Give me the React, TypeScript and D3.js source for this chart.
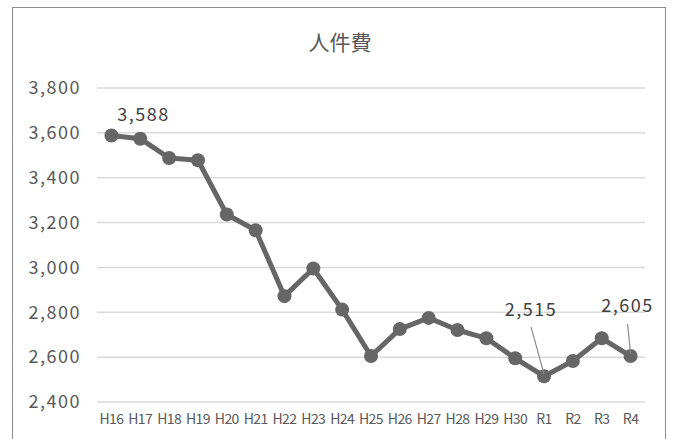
import React, { useEffect, useRef } from "react";
import * as d3 from "d3";

const years = ["H16", "H17", "H18", "H19", "H20", "H21", "H22", "H23", "H24", "H25", "H26", "H27", "H28", "H29", "H30", "R1", "R2", "R3", "R4"];
const costs = [3588, 3574, 3488, 3478, 3236, 3166, 2872, 2995, 2812, 2605, 2725, 2775, 2721, 2684, 2595, 2515, 2583, 2684, 2605];
const yTicks = [2400, 2600, 2800, 3000, 3200, 3400, 3600, 3800];
const labelled = ["H16", "R1", "R4"];

const App: React.FC = () => {
  const svgRef = useRef<SVGSVGElement | null>(null);

  useEffect(() => {
    if (!svgRef.current) return;
    const width = 673;
    const height = 439;
    const margin = { top: 88, right: 28, bottom: 37, left: 97 };
    const plotW = width - margin.left - margin.right;
    const plotH = height - margin.top - margin.bottom;
    const font = "'Noto Sans CJK JP', 'Noto Sans', sans-serif";

    const svg = d3.select(svgRef.current);
    svg.selectAll("*").remove();

    svg.append("rect")
      .attr("x", 12.5).attr("y", 7.5)
      .attr("width", 653).attr("height", 440)
      .attr("fill", "#fff").attr("stroke", "#8c8c8c").attr("stroke-width", 1);

    svg.append("text")
      .attr("x", 340).attr("y", 50)
      .attr("text-anchor", "middle")
      .style("font-family", font).style("font-size", "21px").style("fill", "#595959")
      .text("人件費");

    const x = d3.scaleBand().domain(years).range([0, plotW]);
    const y = d3.scaleLinear().domain([2400, 3800]).range([plotH, 0]);
    const fmt = d3.format(",");

    const g = svg.append("g").attr("transform", `translate(${margin.left},${margin.top})`);

    g.selectAll("line.grid")
      .data(yTicks)
      .enter()
      .append("line")
      .attr("x1", 0).attr("x2", plotW)
      .attr("y1", d => y(d)).attr("y2", d => y(d))
      .attr("stroke", "#d9d9d9").attr("stroke-width", 1.5);

    g.selectAll("text.ytick")
      .data(yTicks)
      .enter()
      .append("text")
      .attr("x", -16).attr("y", d => y(d))
      .attr("dy", "0.35em")
      .attr("text-anchor", "end")
      .style("font-family", font).style("font-size", "18px").style("fill", "#595959")
      .style("letter-spacing", "1.5px")
      .text(d => fmt(d));

    g.selectAll("text.xtick")
      .data(years)
      .enter()
      .append("text")
      .attr("x", d => (x(d) ?? 0) + x.bandwidth() / 2)
      .attr("y", plotH + 22)
      .attr("text-anchor", "middle")
      .style("font-family", font).style("font-size", "14px").style("fill", "#595959")
      .style("letter-spacing", "-0.6px")
      .text(d => d);

    const cx = (i: number) => (x(years[i]) ?? 0) + x.bandwidth() / 2;

    const line = d3.line<number>()
      .x((_, i) => cx(i))
      .y(d => y(d));

    g.append("path")
      .datum(costs)
      .attr("d", line)
      .attr("fill", "none")
      .attr("stroke", "#666666")
      .attr("stroke-width", 5)
      .attr("stroke-linejoin", "round");

    g.selectAll("circle")
      .data(costs)
      .enter()
      .append("circle")
      .attr("cx", (_, i) => cx(i))
      .attr("cy", d => y(d))
      .attr("r", 7)
      .attr("fill", "#666666");

    // data labels: H16 sits above its point, R1/R4 are pulled up with leader lines
    const labelOffsets: Record<string, { dx: number; dy: number; leader: boolean }> = {
      H16: { dx: 32, dy: -21, leader: false },
      R1: { dx: -13, dy: -67, leader: true },
      R4: { dx: -3, dy: -50, leader: true },
    };

    labelled.forEach(name => {
      const i = years.indexOf(name);
      const px = cx(i);
      const py = y(costs[i]);
      const o = labelOffsets[name];
      if (o.leader) {
        g.append("line")
          .attr("x1", px + o.dx).attr("y1", py + o.dy + 18)
          .attr("x2", px).attr("y2", py - 2)
          .attr("stroke", "#8c8c8c").attr("stroke-width", 1.2);
      }
      g.append("text")
        .attr("x", px + o.dx).attr("y", py + o.dy)
        .attr("dy", "0.35em")
        .attr("text-anchor", "middle")
        .style("font-family", font).style("font-size", "18px").style("fill", "#404040")
        .style("letter-spacing", "1.5px")
        .text(fmt(costs[i]));
    });
  }, []);

  return (
    <svg
      ref={svgRef}
      width={673}
      height={439}
      style={{ position: "absolute", left: 0, top: 0, background: "#fff" }}
    ></svg>
  );
};

export default App;
